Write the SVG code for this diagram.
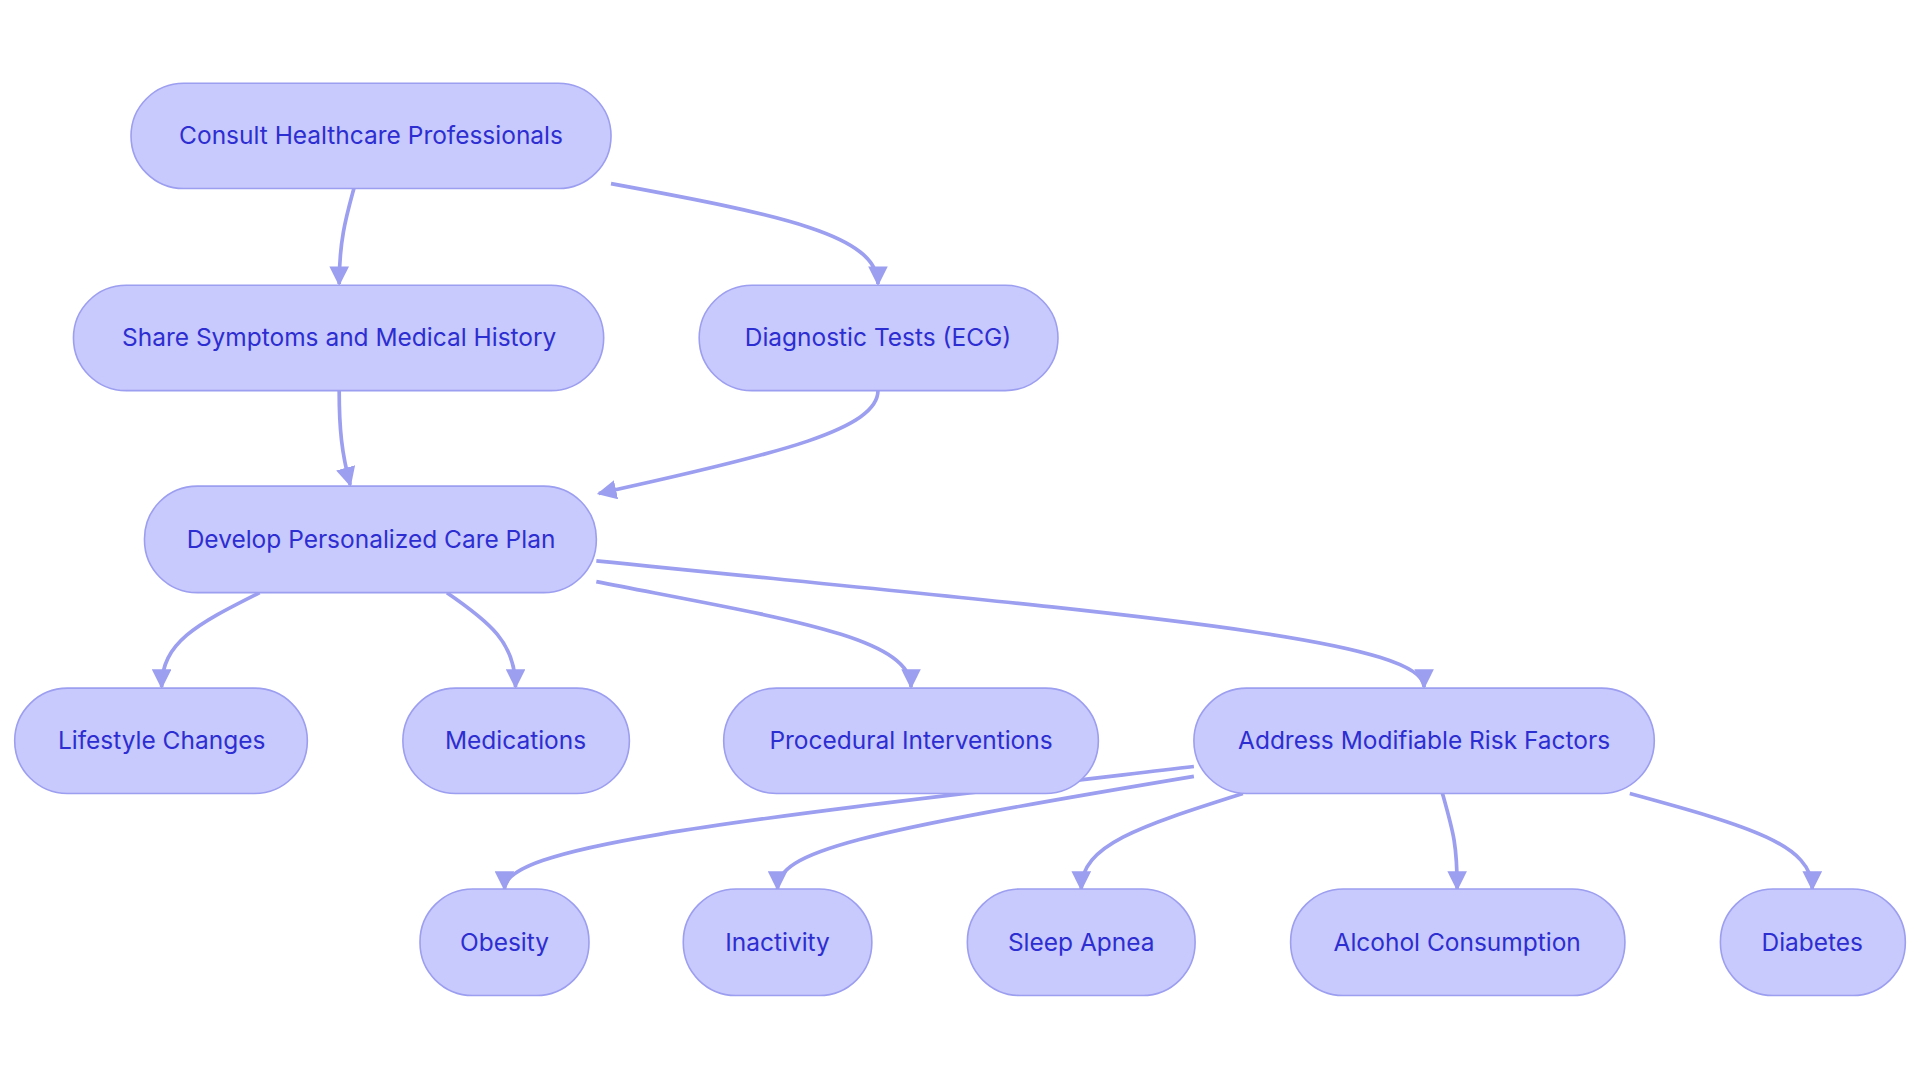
<svg xmlns="http://www.w3.org/2000/svg" width="1920" height="1083" viewBox="0 0 1920 1083">
<style>
.n rect{fill:#c8c9fd;stroke:#9c9ef0;stroke-width:1.3}
.n text{font-family:Inter,"Noto Sans",sans-serif;font-size:20px;fill:#2d2ed1;text-anchor:middle;dominant-baseline:central}
.e path{fill:none;stroke:#9c9ef0;stroke-width:3;marker-end:url(#a)}
</style>
<defs><marker id="a" viewBox="0 0 10 10" refX="9" refY="5" markerWidth="16" markerHeight="16" markerUnits="userSpaceOnUse" orient="auto"><path d="M0,0L10,5L0,10z" fill="#9c9ef0"/></marker></defs>
<rect width="1920" height="1083" fill="#fff"/>
<g transform="scale(1.2245)">
<g class="e" id="edges">
<path d="M289,154 C283,176 277,196 277,232"/>
<path d="M499,150 C640,176 717,192 717,232"/>
<path d="M277,319 C277,350 279,370 286,396"/>
<path d="M717,319 C717,350 640,370 489,403"/>
<path d="M212,484 C160,510 132,525 132,561"/>
<path d="M365,484 C400,508 421,525 421,561"/>
<path d="M487,475 C640,505 744,520 744,561"/>
<path d="M487,458 C900,500 1163,520 1163,561"/>
<path d="M975,626 C600,670 412,690 412,726"/>
<path d="M975,634 C700,680 635,695 635,726"/>
<path d="M1015,648 C930,675 883,690 883,726"/>
<path d="M1178,648 C1187,680 1190,690 1190,726"/>
<path d="M1331,648 C1430,675 1480,690 1480,726"/>
</g>
<g class="n" id="consult"><rect x="107" y="68" width="392" height="86" rx="43"/><text x="303" y="110">Consult Healthcare Professionals</text></g>
<g class="n" id="share"><rect x="60" y="233" width="433" height="86" rx="43"/><text x="277" y="275">Share Symptoms and Medical History</text></g>
<g class="n" id="diag"><rect x="571" y="233" width="293" height="86" rx="43"/><text x="717" y="275">Diagnostic Tests (ECG)</text></g>
<g class="n" id="develop"><rect x="118" y="397" width="369" height="87" rx="43"/><text x="303" y="440">Develop Personalized Care Plan</text></g>
<g class="n" id="lifestyle"><rect x="12" y="562" width="239" height="86" rx="43"/><text x="132" y="604">Lifestyle Changes</text></g>
<g class="n" id="meds"><rect x="329" y="562" width="185" height="86" rx="43"/><text x="421" y="604">Medications</text></g>
<g class="n" id="proc"><rect x="591" y="562" width="306" height="86" rx="43"/><text x="744" y="604">Procedural Interventions</text></g>
<g class="n" id="address"><rect x="975" y="562" width="376" height="86" rx="43"/><text x="1163" y="604">Address Modifiable Risk Factors</text></g>
<g class="n" id="obesity"><rect x="343" y="726" width="138" height="87" rx="43"/><text x="412" y="769">Obesity</text></g>
<g class="n" id="inactivity"><rect x="558" y="726" width="154" height="87" rx="43"/><text x="635" y="769">Inactivity</text></g>
<g class="n" id="sleep"><rect x="790" y="726" width="186" height="87" rx="43"/><text x="883" y="769">Sleep Apnea</text></g>
<g class="n" id="alcohol"><rect x="1054" y="726" width="273" height="87" rx="43"/><text x="1190" y="769">Alcohol Consumption</text></g>
<g class="n" id="diabetes"><rect x="1405" y="726" width="151" height="87" rx="43"/><text x="1480" y="769">Diabetes</text></g>
</g>
</svg>
